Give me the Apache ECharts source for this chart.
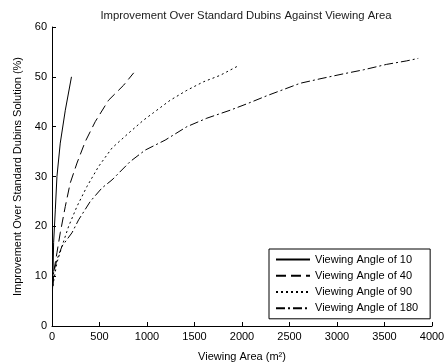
<!DOCTYPE html>
<html>
<head>
<meta charset="utf-8">
<script src="https://cdn.jsdelivr.net/npm/echarts@6/dist/echarts.min.js"></script>
<style>html,body{margin:0;padding:0;background:#fff;}#c{width:445px;height:362px;}</style>
</head>
<body>
<div id="c"></div>
<script>
const seriesNames = ["Viewing Angle of 10", "Viewing Angle of 40", "Viewing Angle of 90", "Viewing Angle of 180"];
const angle10 = [[5,7],[10,10],[17,16.7],[35,23.3],[52,30],[87,36.7],[140,43.3],[205,50]];
const angle40 = [[8,8],[17,10.7],[52,14.7],[87,18.7],[140,24],[192,28.7],[263,32.7],[350,37],[455,41],[595,45.3],[753,48.3],[860,50.8]];
const angle90 = [[8,8],[52,12.7],[105,16],[175,20],[263,24],[368,28],[490,32],[631,35.7],[806,38.7],[963,41.3],[1068,42.8],[1244,45.3],[1420,47.3],[1594,49],[1770,50.3],[1950,52.1]];
const angle180 = [[8,8],[17,10.7],[52,13.3],[105,16],[210,18.7],[280,21.3],[403,25],[526,27.7],[631,29.3],[823,33],[981,35.3],[1191,37.3],[1420,40],[1630,41.7],[1875,43.3],[2067,44.7],[2261,46.2],[2611,48.7],[2821,49.6],[3067,50.6],[3277,51.4],[3522,52.5],[3733,53.2],[3855,53.7]];
const xTicks = {min: 0, max: 4000, interval: 500};
const yTicks = {min: 0, max: 60, interval: 10};

const dashes = ['solid', [10, 5], [2, 3], [9, 3, 2, 3]];
const allData = [angle10, angle40, angle90, angle180];
const FONT = 'Liberation Sans, Arial, sans-serif';

const chart = echarts.init(document.getElementById('c'), null, {renderer: 'canvas'});
chart.setOption({
  animation: false,
  backgroundColor: '#fff',
  title: {
    text: 'Improvement Over Standard Dubins Against Viewing Area',
    left: 241, top: 5, textAlign: 'center',
    textStyle: {fontFamily: FONT, fontSize: 11.3, fontWeight: 'normal', color: '#1a1a1a'}
  },
  grid: {left: 52, right: 13, top: 27, bottom: 36, containLabel: false, outerBoundsMode: 'none'},
  legend: {
    orient: 'vertical', left: 269, top: 249, align: 'left',
    itemWidth: 34, itemHeight: 14, itemGap: 5, padding: [5, 12, 5, 6],
    borderColor: '#000', borderWidth: 1, backgroundColor: '#fff',
    itemStyle: {opacity: 0},
    textStyle: {fontFamily: FONT, fontSize: 11, color: '#000'},
    data: seriesNames
  },
  xAxis: {
    type: 'value', min: xTicks.min, max: xTicks.max, interval: xTicks.interval,
    name: 'Viewing Area (m²)', nameLocation: 'middle', nameGap: 25,
    nameTextStyle: {fontFamily: FONT, fontSize: 11, color: '#000', verticalAlign: 'top'},
    axisLine: {lineStyle: {color: '#000', width: 1}},
    axisTick: {inside: true, length: 4, lineStyle: {color: '#000'}},
    axisLabel: {fontFamily: FONT, fontSize: 11, color: '#000', margin: 5, formatter: v => String(v)},
    splitLine: {show: false}
  },
  yAxis: {
    type: 'value', min: yTicks.min, max: yTicks.max, interval: yTicks.interval,
    name: 'Improvement Over Standard Dubins Solution (%)', nameLocation: 'middle', nameGap: 25,
    nameTextStyle: {fontFamily: FONT, fontSize: 11, color: '#000'},
    axisLine: {show: true, lineStyle: {color: '#000', width: 1}},
    axisTick: {show: true, inside: true, length: 4, lineStyle: {color: '#000'}},
    axisLabel: {fontFamily: FONT, fontSize: 11, color: '#000', margin: 5, formatter: v => String(v)},
    splitLine: {show: false}
  },
  series: seriesNames.map((n, i) => ({
    name: n, type: 'line', data: allData[i],
    symbol: 'none', showSymbol: false,
    lineStyle: {color: '#000', width: 1, type: dashes[i]},
    itemStyle: {color: '#000'}
  }))
});
</script>
</body>
</html>
